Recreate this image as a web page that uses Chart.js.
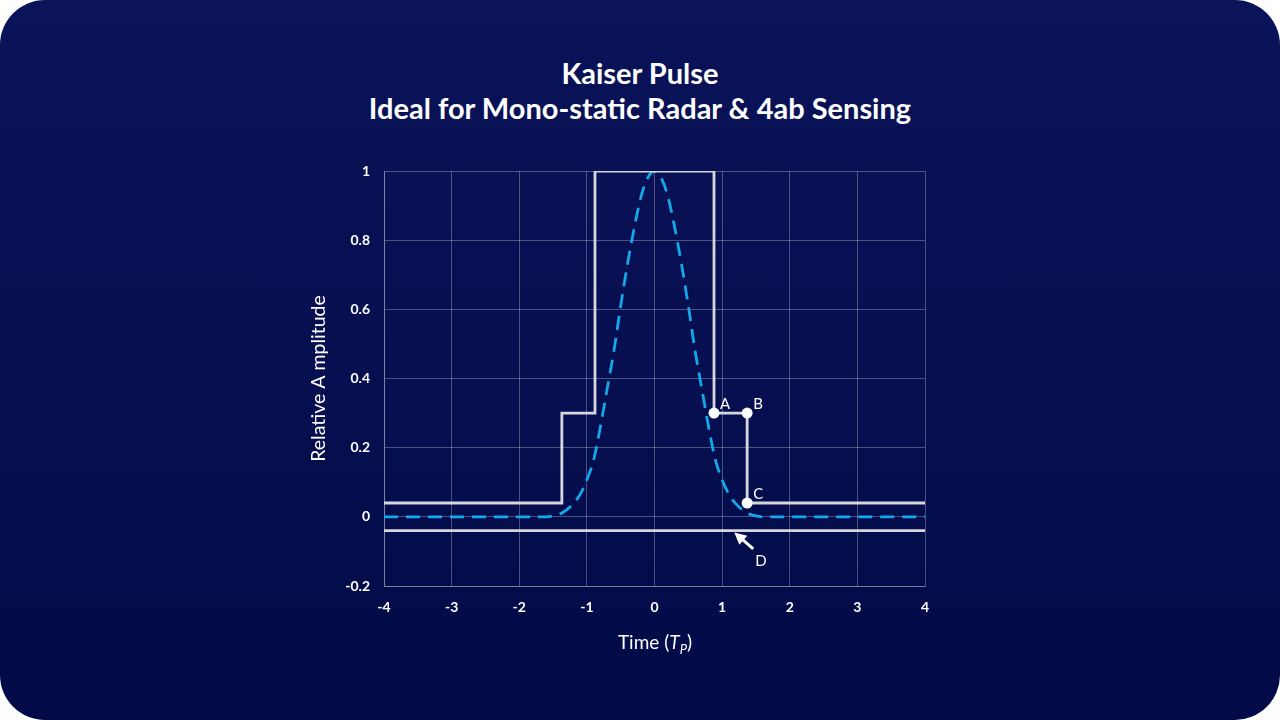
<!DOCTYPE html>
<html>
<head>
<meta charset="utf-8">
<script src="https://cdn.jsdelivr.net/npm/chart.js@4.4.1/dist/chart.umd.min.js"></script>
<style>
  html, body { margin: 0; padding: 0; background: #ffffff; }
  #frame {
    position: relative; width: 1280px; height: 720px; border-radius: 45px; overflow: hidden;
    background: linear-gradient(180deg, #0b1359 0%, #020b47 100%);
    font-family: Lato, "Noto Sans", sans-serif;
  }
  #title {
    position: absolute; left: 0; top: 55px; width: 1280px; text-align: center;
    color: #ffffff; font-weight: 700; font-size: 29px; line-height: 35px;
  }
  #xtitle {
    position: absolute; left: 555px; top: 630px; width: 200px; text-align: center;
    color: #ffffff; font-size: 19px; line-height: 24px;
  }
  #xtitle sub { font-size: 13px; vertical-align: -5px; }
  canvas { position: absolute; left: 0; top: 0; }
</style>
</head>
<body>
<div id="frame">
  <div id="title">Kaiser Pulse<br>Ideal for Mono-static Radar &amp; 4ab Sensing</div>
  <canvas id="c" width="1280" height="720"></canvas>
  <div id="xtitle">Time (<i>T</i><sub><i>P</i></sub>)</div>
</div>
<script>
// ---- data ----
const xTicks = [-4, -3, -2, -1, 0, 1, 2, 3, 4];
const yTickValues = [-0.2, 0, 0.2, 0.4, 0.6, 0.8, 1];
const yTickLabels = ['-0.2', '0', '0.2', '0.4', '0.6', '0.8', '1'];

// rectangular (stepped) pulse envelope
const stepX = [-4, -1.37, -1.37, -0.88, -0.88, 0.88, 0.88, 1.37, 1.37, 4];
const stepY = [0.04, 0.04, 0.3, 0.3, 1, 1, 0.3, 0.3, 0.04, 0.04];

// lower limit line D
const floorX = [-4, 4];
const floorY = [-0.04, -0.04];

// Kaiser pulse (dashed)
const kaiserX = [-4, -3, -2, -1.6, -1.5, -1.4, -1.3, -1.2, -1.1, -1.0, -0.9, -0.8, -0.7, -0.6, -0.5, -0.4, -0.3, -0.2, -0.1, 0,
                 0.1, 0.2, 0.3, 0.4, 0.5, 0.6, 0.7, 0.8, 0.9, 1.0, 1.1, 1.2, 1.3, 1.4, 1.5, 1.6, 2, 3, 4];
const kaiserY = [0, 0, 0, 0, 0.003, 0.008, 0.02, 0.038, 0.065, 0.107, 0.165, 0.26, 0.37, 0.48, 0.61, 0.73, 0.835, 0.925, 0.98, 1.0,
                 0.98, 0.925, 0.835, 0.73, 0.61, 0.48, 0.37, 0.26, 0.165, 0.107, 0.065, 0.038, 0.02, 0.008, 0.003, 0, 0, 0, 0];

// marked points
const markerNames = ['A', 'B', 'C'];
const markerX = [0.88, 1.37, 1.37];
const markerY = [0.3, 0.3, 0.04];

// arrow D (tail -> tip, data units)
const arrowTail = [1.46, -0.093];
const arrowTip = [1.18, -0.045];
const arrowLabel = 'D';

const zip = (xs, ys) => xs.map((x, i) => ({ x: x, y: ys[i] }));

const annot = {
  id: 'annot',
  afterDatasetsDraw(chart) {
    const { ctx, scales } = chart;
    const sx = scales.x, sy = scales.y;
    ctx.save();
    ctx.fillStyle = '#ffffff';
    ctx.font = '15px Lato, "Noto Sans", sans-serif';
    ctx.textBaseline = 'middle';
    markerNames.forEach((n, i) => {
      const px = sx.getPixelForValue(markerX[i]);
      const py = sy.getPixelForValue(markerY[i]);
      ctx.fillText(n, px + 6, py - 9);
    });
    // arrow
    const tx = sx.getPixelForValue(arrowTip[0]), ty = sy.getPixelForValue(arrowTip[1]);
    const fx = sx.getPixelForValue(arrowTail[0]), fy = sy.getPixelForValue(arrowTail[1]);
    const ang = Math.atan2(ty - fy, tx - fx);
    ctx.strokeStyle = '#ffffff';
    ctx.lineWidth = 3;
    ctx.beginPath();
    ctx.moveTo(fx, fy);
    ctx.lineTo(tx - 8 * Math.cos(ang), ty - 8 * Math.sin(ang));
    ctx.stroke();
    ctx.beginPath();
    ctx.moveTo(tx, ty);
    ctx.lineTo(tx - 12 * Math.cos(ang) + 6 * Math.sin(ang), ty - 12 * Math.sin(ang) - 6 * Math.cos(ang));
    ctx.lineTo(tx - 12 * Math.cos(ang) - 6 * Math.sin(ang), ty - 12 * Math.sin(ang) + 6 * Math.cos(ang));
    ctx.closePath();
    ctx.fill();
    ctx.fillText(arrowLabel, fx + 2, fy + 12);
    ctx.restore();
  }
};

const tickFont = { family: 'Lato, "Noto Sans", sans-serif', size: 14, weight: 'bold' };

new Chart(document.getElementById('c'), {
  type: 'scatter',
  data: {
    datasets: [
      { data: zip(kaiserX, kaiserY), showLine: true, borderColor: '#12a8ea', borderWidth: 2.8,
        borderDash: [14, 8], pointRadius: 0, cubicInterpolationMode: 'monotone', order: 3 },
      { data: zip(floorX, floorY), showLine: true, borderColor: '#d6d6de', borderWidth: 2.8,
        pointRadius: 0, tension: 0, order: 2 },
      { data: zip(stepX, stepY), showLine: true, borderColor: '#d6d6de', borderWidth: 2.8,
        pointRadius: 0, tension: 0, order: 2 },
      { data: zip(markerX, markerY), showLine: false, pointRadius: 5.5, pointBackgroundColor: '#ffffff',
        pointBorderColor: '#ffffff', pointBorderWidth: 0, order: 1 }
    ]
  },
  options: {
    responsive: false,
    devicePixelRatio: 1,
    animation: false,
    events: [],
    layout: { padding: { left: 307, top: 171, right: 355, bottom: 94 } },
    plugins: { legend: { display: false }, tooltip: { enabled: false }, title: { display: false } },
    scales: {
      x: {
        type: 'linear', min: -4, max: 4,
        afterBuildTicks: (s) => { s.ticks = xTicks.map(v => ({ value: v })); },
        afterFit: (s) => { s.height = 40; },
        grid: { color: 'rgba(255,255,255,0.28)', lineWidth: 1, drawTicks: false },
        border: { display: true, color: 'rgba(255,255,255,0.28)' },
        ticks: { color: '#ffffff', padding: 13, font: tickFont, callback: (v) => String(v) }
      },
      y: {
        type: 'linear', min: -0.2, max: 1,
        afterBuildTicks: (s) => { s.ticks = yTickValues.map(v => ({ value: v })); },
        afterFit: (s) => { s.width = 77; },
        grid: { color: 'rgba(255,255,255,0.28)', lineWidth: 1, drawTicks: false },
        border: { display: true, color: 'rgba(255,255,255,0.28)' },
        title: { display: true, text: 'Relative A mplitude', color: '#ffffff', padding: 0,
                 font: { family: 'Lato, "Noto Sans", sans-serif', size: 19.5 } },
        ticks: { color: '#ffffff', padding: 14, font: tickFont,
                 callback: (v) => { const i = yTickValues.findIndex(t => Math.abs(t - v) < 1e-9); return i >= 0 ? yTickLabels[i] : ''; } }
      }
    }
  },
  plugins: [annot]
});
</script>
</body>
</html>
